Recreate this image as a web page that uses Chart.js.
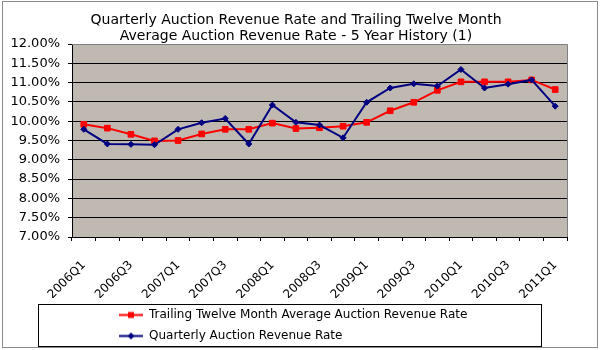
<!DOCTYPE html>
<html>
<head>
<meta charset="utf-8">
<script src="https://cdn.jsdelivr.net/npm/chart.js@4/dist/chart.umd.min.js"></script>
<style>
  body { margin: 0; background: #fff; }
</style>
</head>
<body>
<canvas id="auction-chart" width="600" height="350"></canvas>
<script>
const quarters = ['2006Q1', '2006Q2', '2006Q3', '2006Q4', '2007Q1', '2007Q2', '2007Q3', '2007Q4',
                  '2008Q1', '2008Q2', '2008Q3', '2008Q4', '2009Q1', '2009Q2', '2009Q3', '2009Q4',
                  '2010Q1', '2010Q2', '2010Q3', '2010Q4', '2011Q1'];
const trailingRate = [9.92, 9.82, 9.66, 9.49, 9.50, 9.67, 9.79, 9.79, 9.95, 9.81, 9.83,
                      9.87, 9.97, 10.27, 10.49, 10.80, 11.02, 11.02, 11.02, 11.07, 10.82];
const quarterlyRate = [9.79, 9.41, 9.40, 9.39, 9.79, 9.96, 10.07, 9.41, 10.42, 9.97, 9.90,
                       9.57, 10.49, 10.86, 10.97, 10.91, 11.34, 10.86, 10.96, 11.07, 10.39];
const yMin = 7;
const yMax = 12;
const yStep = 0.5;

const seriesNames = ['Trailing Twelve Month Average Auction Revenue Rate', 'Quarterly Auction Revenue Rate'];

// little line+marker pictures for the legend, like excel draws them
const legendSample = (color, shape) => {
    const c = document.createElement('canvas');
    c.width = 24;
    c.height = 9;
    const g = c.getContext('2d');
    g.strokeStyle = color;
    g.fillStyle = color;
    g.lineWidth = 2;
    g.beginPath();
    g.moveTo(0, 4.5);
    g.lineTo(24, 4.5);
    g.stroke();
    g.beginPath();
    if (shape === 'rect') {
        g.rect(9, 1.5, 6, 6);
    } else {
        g.moveTo(12, 1);
        g.lineTo(15.5, 4.5);
        g.lineTo(12, 8);
        g.lineTo(8.5, 4.5);
        g.closePath();
    }
    g.fill();
    return c;
};
const samples = [legendSample('#ff0000', 'rect'), legendSample('#000080', 'diamond')];

const plotDecor = {
    id: 'plotDecor',
    afterLayout(chart) {
        // excel style: title a bit left of center, legend rows left aligned
        chart.titleBlock.left = 0;
        chart.titleBlock.right = 592;
        chart.legend.left = 110;
        chart.legend.top = 300;
    },
    beforeDraw(chart) {
        const {ctx, chartArea: a} = chart;
        ctx.save();
        ctx.fillStyle = '#c0b9b2';
        ctx.fillRect(a.left, a.top, a.right - a.left, a.bottom - a.top);
        ctx.restore();
    },
    beforeDatasetsDraw(chart) {
        const {ctx, chartArea: a} = chart;
        ctx.save();
        ctx.strokeStyle = '#808080';
        ctx.lineWidth = 1;
        ctx.beginPath();
        ctx.moveTo(a.left, Math.round(a.top) + 0.5);
        ctx.lineTo(Math.round(a.right) + 0.5, Math.round(a.top) + 0.5);
        ctx.lineTo(Math.round(a.right) + 0.5, a.bottom);
        ctx.stroke();
        ctx.restore();
    },
    afterDraw(chart) {
        const ctx = chart.ctx;
        ctx.save();
        ctx.lineWidth = 1;
        ctx.strokeStyle = '#000';
        ctx.strokeRect(38.5, 304.5, 503, 42);
        ctx.strokeStyle = '#8a8a8a';
        ctx.strokeRect(2.5, 1.5, 595, 346);
        ctx.restore();
    }
};

Chart.defaults.font.family = "'DejaVu Sans', sans-serif";
Chart.defaults.color = '#000';

const ctx = document.getElementById('auction-chart');

new Chart(ctx, {
    type: 'line',
    data: {
        labels: quarters,
        datasets: [
            {
                label: seriesNames[0],
                data: trailingRate,
                borderColor: '#ff0000',
                backgroundColor: '#ff0000',
                borderWidth: 2,
                pointStyle: 'rect',
                pointRadius: 4,
                pointBorderWidth: 1,
                tension: 0,
                order: 1
            },
            {
                label: seriesNames[1],
                data: quarterlyRate,
                borderColor: '#000080',
                backgroundColor: '#000080',
                borderWidth: 2,
                pointStyle: 'rectRot',
                pointRadius: 3,
                pointBorderWidth: 1,
                tension: 0,
                order: 0
            }
        ]
    },
    options: {
        responsive: false,
        animation: false,
        layout: {
            padding: { left: 10, right: 33, top: 0, bottom: 0 }
        },
        scales: {
            x: {
                offset: true,
                grid: {
                    offset: true,
                    drawOnChartArea: false,
                    drawTicks: true,
                    tickLength: 4,
                    color: '#000'
                },
                border: { color: '#000' },
                ticks: {
                    autoSkip: false,
                    maxRotation: 45,
                    minRotation: 45,
                    padding: 17,
                    font: { size: 12 },
                    callback: function (value, index) {
                        return index % 2 === 0 ? quarters[index] : '';
                    }
                },
                afterFit: (scale) => { scale.height = 61; }
            },
            y: {
                min: yMin,
                max: yMax,
                grid: {
                    color: '#000',
                    tickLength: 4
                },
                border: { color: '#000' },
                ticks: {
                    stepSize: yStep,
                    padding: 8,
                    font: { size: 13 },
                    callback: (v) => v.toFixed(2) + '%'
                },
                afterFit: (scale) => { scale.width = 62; }
            }
        },
        plugins: {
            title: {
                display: true,
                text: ['Quarterly Auction Revenue Rate and Trailing Twelve Month',
                       'Average Auction Revenue Rate - 5 Year History (1)'],
                color: '#000',
                font: { size: 14, weight: 'normal', lineHeight: 16 / 14 },
                padding: { top: 12, bottom: 0 }
            },
            legend: {
                display: true,
                position: 'bottom',
                align: 'start',
                labels: {
                    color: '#000',
                    font: { size: 12 },
                    padding: 9,
                    usePointStyle: true,
                    pointStyleWidth: 24,
                    sort: (a, b) => a.datasetIndex - b.datasetIndex,
                    generateLabels: (chart) => {
                        const items = Chart.defaults.plugins.legend.labels.generateLabels(chart);
                        items.forEach((item) => { item.pointStyle = samples[item.datasetIndex]; });
                        return items;
                    }
                }
            },
            tooltip: { enabled: false }
        }
    },
    plugins: [plotDecor]
});
</script>
</body>
</html>
